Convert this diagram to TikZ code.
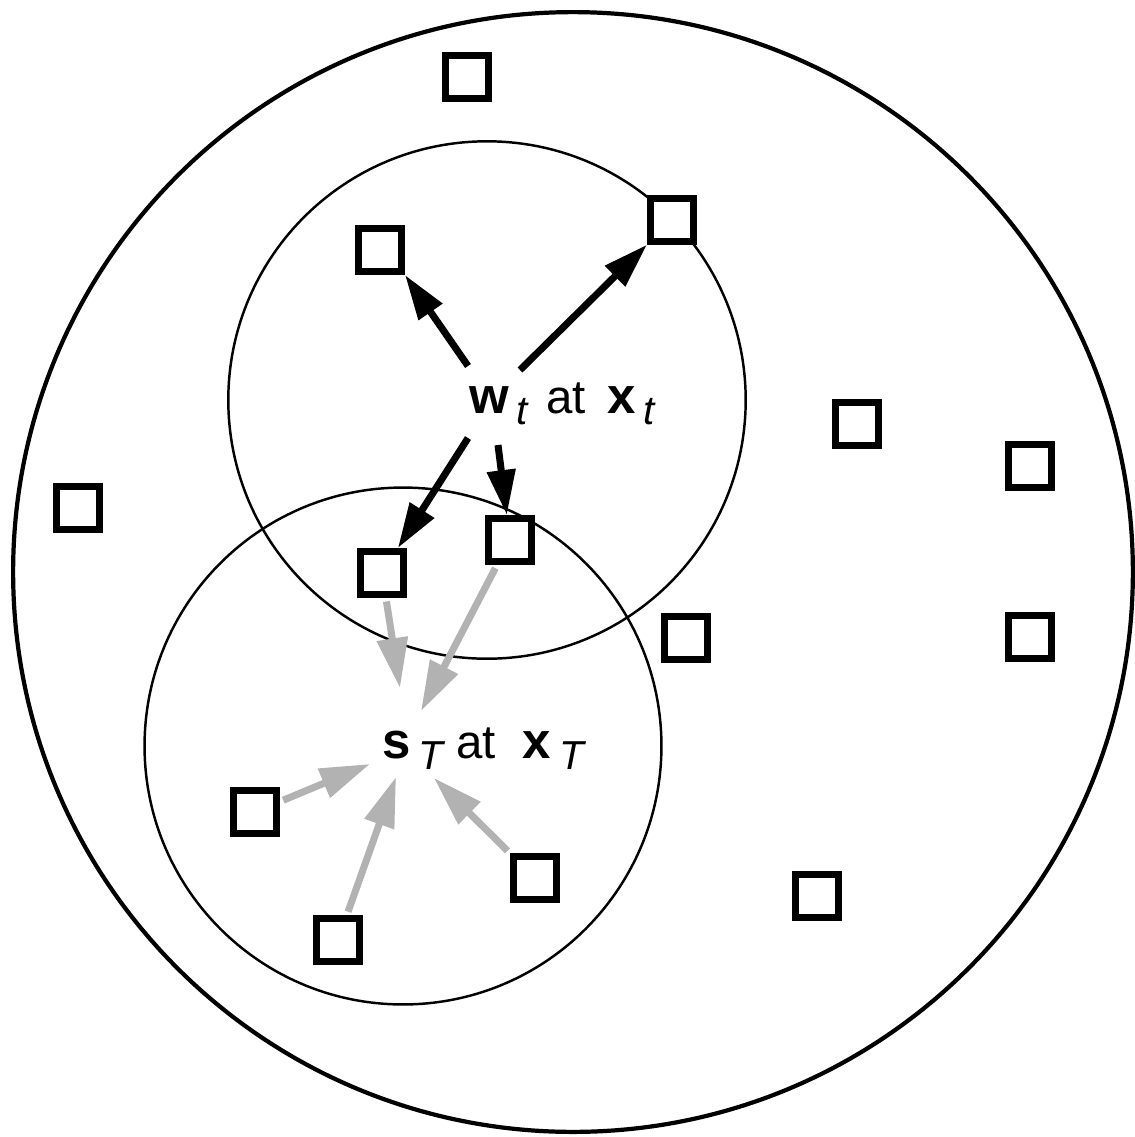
\documentclass[tikz,border=0pt]{standalone}
\usepackage{fontspec}
\setmainfont{Liberation Sans}
\usepackage{tikz}
\usetikzlibrary{arrows.meta}

\definecolor{linkgray}{gray}{0.70}
\newcommand{\vsub}[1]{\raisebox{-0.45ex}{\fontsize{23}{23}\selectfont\itshape #1}}
\newcommand{\vbold}[1]{{\fontsize{29}{30}\selectfont\bfseries #1}}

\begin{document}
\begin{tikzpicture}[
x=0.02cm,y=-0.02cm,
ring/.style={
draw,
circle,
inner sep=0pt,
line width=1.4pt
},
bigring/.style={
ring,
line width=2.4pt
},
site/.style={
draw,
fill=white,
rectangle,
inner sep=0pt,
minimum size=0.86cm,
line width=4pt
},
tag/.style={
anchor=base,
inner sep=0pt,
font=\fontsize{27}{30}\selectfont
},
push/.style={
line width=4pt,
-{Triangle[length=0.9cm,width=0.55cm]}
},
pull/.style={
line width=4pt,
linkgray,
shorten <=2pt,
-{Triangle[length=1cm,width=0.6cm]}
}
]
\useasboundingbox (0,0) rectangle (1135,1137);

%%%%%%%%%%%%%%%%%%%%%%%%%%%%%%%%%%%%
% Neighbourhoods
%%%%%%%%%%%%%%%%%%%%%%%%%%%%%%%%%%%%

\node[bigring,minimum size=22.4cm] (space) at (573,572) {};

\node[ring,minimum size=10.35cm] (wzone) at (487,400) {};

\node[ring,minimum size=10.34cm] (szone) at (403,746) {};

%%%%%%%%%%%%%%%%%%%%%%%%%%%%%%%%%%%%
% Labels
%%%%%%%%%%%%%%%%%%%%%%%%%%%%%%%%%%%%

\node[tag] (wlab) at (562,413)
{\vbold{w}\,\vsub{t}\hspace{3pt} at \,\vbold{x}\,\vsub{t}};

\node[tag] (slab) at (483,758)
{\vbold{s}\,\vsub{T} at \hspace{8pt}\vbold{x}\,\vsub{T}};

%%%%%%%%%%%%%%%%%%%%%%%%%%%%%%%%%%%%
% Sites
%%%%%%%%%%%%%%%%%%%%%%%%%%%%%%%%%%%%

\node[site] (sqtop) at (467,77) {};
\node[site] (sqne) at (672,220) {};
\node[site] (sqnw) at (380,250) {};
\node[site] (sqmid) at (857,424) {};
\node[site] (sqeast) at (1030,466) {};
\node[site] (sqwest) at (78,508) {};
\node[site] (sqctr) at (510,540) {};
\node[site] (sqctl) at (382,573) {};
\node[site] (sqmr) at (686,638) {};
\node[site] (sqse) at (1030,637) {};
\node[site] (sqll) at (255,812) {};
\node[site] (sqlr) at (535,878) {};
\node[site] (sqfar) at (817,896) {};
\node[site] (sqlb) at (338,940) {};

%%%%%%%%%%%%%%%%%%%%%%%%%%%%%%%%%%%%
% Arrow ends near the labels
%%%%%%%%%%%%%%%%%%%%%%%%%%%%%%%%%%%%

\coordinate (wa) at (468,366);
\coordinate (wb) at (520,370);
\coordinate (wc) at (468,438);
\coordinate (wd) at (498,445);

\coordinate (sa) at (400,688);
\coordinate (sb) at (421,711);
\coordinate (sc) at (370,764);
\coordinate (sd) at (396,777);
\coordinate (se) at (434,778);

%%%%%%%%%%%%%%%%%%%%%%%%%%%%%%%%%%%%
% Connections
%%%%%%%%%%%%%%%%%%%%%%%%%%%%%%%%%%%%

\draw[push] (wa)--(sqnw.south east);

\draw[push] (wb)--(sqne);

\draw[push] (wc)--(sqctl);

\draw[push] (wd)--(sqctr);

\draw[pull] (sqctl)--(sa);

\draw[pull] (sqctr)--(sb);

\draw[pull] (sqll)--(sc);

\draw[pull] (sqlb)--(sd);

\draw[pull] (sqlr)--(se);

\end{tikzpicture}
\end{document}
